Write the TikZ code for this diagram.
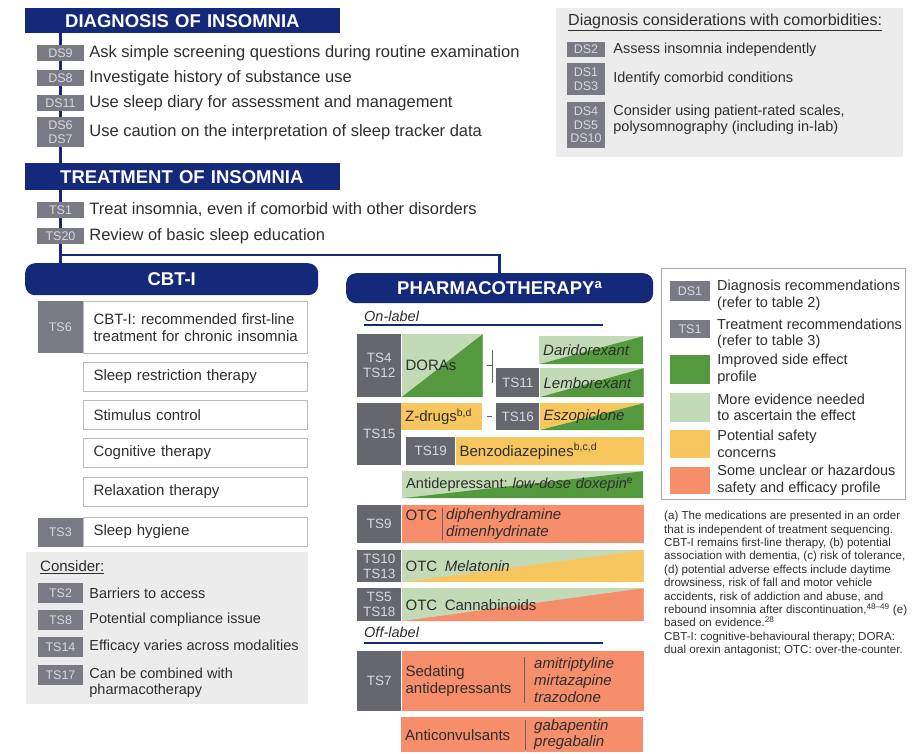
\documentclass[tikz,border=0pt]{standalone}
\usepackage{fontspec}
\setmainfont{Liberation Sans}
\usepackage{xcolor}
\usetikzlibrary{positioning, backgrounds}

\definecolor{navy}{HTML}{15297A}
\definecolor{tagfill}{HTML}{7A7A84}
\definecolor{ptagfill}{HTML}{66666F}
\definecolor{tagtext}{HTML}{D8D8E0}
\definecolor{panel}{HTML}{ECECEC}
\definecolor{ink}{HTML}{2E2E2E}
\definecolor{frame}{HTML}{BDBDBD}
\definecolor{legframe}{HTML}{A8A8A8}
\definecolor{darkgreen}{HTML}{55993F}
\definecolor{lightgreen}{HTML}{C2DBB6}
\definecolor{amber}{HTML}{F8C65E}
\definecolor{salmon}{HTML}{F68E6C}
\frenchspacing

\begin{document}
\begin{tikzpicture}[
x = 1pt, y = -1pt,
every node/.style = {text=ink},
heading/.style = {fill=navy, text=white, anchor=north west, align=left,
                  inner ysep=0pt, font=\bfseries\fontsize{18.5}{20}\selectfont},
pill/.style = {fill=navy, text=white, rounded corners=10pt, inner sep=0pt,
               anchor=north west, font=\bfseries\fontsize{18.5}{20}\selectfont},
trunk/.style = {draw=navy, line width=2.5pt},
tag/.style = {fill=tagfill, text=tagtext, inner sep=0pt, align=center,
              minimum width=47pt, minimum height=16pt,
              font=\fontsize{12.5}{13.5}\selectfont},
row/.style = {anchor=west, inner sep=0pt, font=\fontsize{16.5}{19}\selectfont},
note/.style = {anchor=west, inner sep=0pt, align=left,
               font=\fontsize{14.5}{16.5}\selectfont},
cbox/.style = {draw=frame, line width=1pt, inner xsep=10pt, inner ysep=0pt,
               text width=204pt, minimum height=29pt, align=left,
               font=\fontsize{15}{17}\selectfont},
ptag/.style = {fill=ptagfill, text=tagtext, inner sep=0pt, align=center,
               anchor=north west, font=\fontsize{13.5}{15}\selectfont},
pcell/.style = {anchor=north west, inner xsep=4pt, inner ysep=0pt, align=left,
                font=\fontsize{15}{17}\selectfont},
split/.style 2 args = {fill=#1, path picture={
    \fill[#2] (path picture bounding box.south west)
           -- (path picture bounding box.south east)
           -- (path picture bounding box.north east) -- cycle;}},
drugs/.style = {anchor=west, inner sep=0pt, align=left,
                font=\itshape\fontsize{15}{17}\selectfont},
sepline/.style = {draw=ink!75, line width=0.8pt},
rule/.style = {draw=navy, line width=2pt},
swatch/.style = {inner sep=0pt, minimum width=40pt},
]
\useasboundingbox (0,0) rectangle (922,754);

% diagnosis
\node (diag) [heading, text width=235pt, inner xsep=40pt, minimum height=25pt]
      at (25,8) {DIAGNOSIS OF INSOMNIA};
\node (ds9) [tag] at (60.5,53) {DS9};
\node (ds9t) [row, right=5pt of ds9] {Ask simple screening questions during routine examination};
\node (ds8) [tag] at (60.5,78) {DS8};
\node (ds8t) [row, right=5pt of ds8] {Investigate history of substance use};
\node (ds11) [tag] at (60.5,103) {DS11};
\node (ds11t) [row, right=5pt of ds11] {Use sleep diary for assessment and management};
\node (ds67) [tag, minimum height=30pt] at (60.5,132) {DS6\\DS7};
\node (ds67t) [row, right=5pt of ds67] {Use caution on the interpretation of sleep tracker data};

% comorbidities panel
\node (comorb) [fill=panel, inner sep=0pt, anchor=north west,
      minimum width=347pt, minimum height=149pt] at (556,8) {};
\node (comorbt) [note, font=\fontsize{16}{18}\selectfont] at (568,22)
      {\underline{Diagnosis considerations with comorbidities:}};
\node (ds2) [tag, minimum width=38pt, minimum height=15pt] at (586,49.5) {DS2};
\node (ds2t) [note, right=8pt of ds2] {Assess insomnia independently};
\node (ds13) [tag, minimum width=38pt, minimum height=32pt] at (586,79) {DS1\\DS3};
\node (ds13t) [note, right=8pt of ds13] {Identify comorbid conditions};
\node (ds4510) [tag, minimum width=38pt, minimum height=46pt] at (586,125) {DS4\\DS5\\DS10};
\node (ds4510t) [note, right=8pt of ds4510, yshift=5pt]
      {Consider using patient-rated scales,\\polysomnography (including in-lab)};

% treatment
\node (treat) [heading, text width=245pt, inner xsep=35pt, minimum height=27pt]
      at (25,163) {TREATMENT OF INSOMNIA};
\node (ts1) [tag] at (60.5,210) {TS1};
\node (ts1t) [row, right=5pt of ts1] {Treat insomnia, even if comorbid with other disorders};
\node (ts20) [tag] at (60.5,236) {TS20};
\node (ts20t) [row, right=5pt of ts20] {Review of basic sleep education};
\coordinate (fork) at (60.5,255);

\node (cbt) [pill, minimum width=293pt, minimum height=32pt] at (25,263) {CBT-I};
\node (pharm) [pill, minimum width=307pt, minimum height=30pt] at (346,273)
      {PHARMACOTHERAPY\textsuperscript{a}};

\begin{scope}[on background layer]
\draw[trunk] (diag.south -| ds9) -- (treat.north -| ds9)
             (treat.south -| ds9) -- (cbt.north -| ds9)
             (fork) -| (pharm.north);
\end{scope}

% CBT-I column
\node (ts6t) [cbox, minimum height=52pt, anchor=north west] at (83,301)
      {\mbox{CBT-I: recommended first-line}\\\mbox{treatment for chronic insomnia}};
\node (ts6) [tag, minimum width=45pt, minimum height=52pt, left=0pt of ts6t] {TS6};
\node (srt) [cbox, below=8pt of ts6t] {Sleep restriction therapy};
\node (stim) [cbox, below=8pt of srt] {Stimulus control};
\node (cogn) [cbox, below=8pt of stim] {Cognitive therapy};
\node (relax) [cbox, below=9pt of cogn] {Relaxation therapy};
\node (hyg) [cbox, below=10pt of relax] {Sleep hygiene};
\node (ts3) [tag, minimum width=45pt, minimum height=29pt, left=0pt of hyg] {TS3};

% consider panel
\node (cons) [fill=panel, inner sep=0pt, anchor=north west,
      minimum width=282pt, minimum height=152pt] at (26,552) {};
\node (const) [note, font=\fontsize{15}{17}\selectfont] at (40,567) {\underline{Consider:}};
\node (ts2) [tag, minimum width=45pt, minimum height=20pt] at (60.5,593) {TS2};
\node (ts2t) [note, right=6pt of ts2] {Barriers to access};
\node (ts8) [tag, minimum width=45pt, minimum height=20pt] at (60.5,620) {TS8};
\node (ts8t) [note, right=6pt of ts8] {Potential compliance issue};
\node (ts14) [tag, minimum width=45pt, minimum height=20pt] at (60.5,647) {TS14};
\node (ts14t) [note, right=6pt of ts14] {Efficacy varies across modalities};
\node (ts17) [tag, minimum width=45pt, minimum height=20pt] at (60.5,675) {TS17};
\node (ts17t) [note, right=6pt of ts17, yshift=-7.5pt] {Can be combined with\\pharmacotherapy};

% pharmacotherapy, on-label
\node (onlab) [anchor=west, inner sep=0pt, font=\itshape\fontsize{14.5}{16}\selectfont]
      at (364,316) {On-label};
\draw[rule] (364,325) -- (603,325);

\node (ts412) [ptag, minimum width=44pt, minimum height=63pt] at (357,334) {TS4\\TS12};
\node (dora) [pcell, split={lightgreen}{darkgreen}, text width=73pt, minimum height=63pt,
      right=0pt of ts412] {DORAs};
\node (dari) [pcell, split={lightgreen}{darkgreen}, text width=96pt, minimum height=28pt]
      at (539,336) {\textit{Daridorexant}};
\node (ts11) [ptag, minimum width=43pt, minimum height=29pt] at (496,368) {TS11};
\node (lembo) [pcell, split={lightgreen}{darkgreen}, text width=96pt, minimum height=29pt,
      right=0pt of ts11] {\textit{Lemborexant}};
\draw[sepline] ([xshift=4pt]dora.east) -- ([xshift=10pt]dora.east) coordinate (brk);
\draw[sepline] (brk |- dari.center) -- (brk |- lembo.center);

\node (ts15) [ptag, minimum width=44pt, minimum height=62pt] at (357,403) {TS15};
\node (zdrug) [pcell, fill=amber, text width=73pt, minimum height=27pt]
      at (401,403) {Z-drugs\textsuperscript{b,d}};
\node (ts16) [ptag, minimum width=43pt, minimum height=27pt] at (496,403) {TS16};
\node (eszo) [pcell, split={amber}{darkgreen}, text width=96pt, minimum height=27pt,
      right=0pt of ts16] {\textit{Eszopiclone}};
\draw[sepline] ([xshift=5pt]zdrug.east) -- ([xshift=10pt]zdrug.east);
\node (ts19) [ptag, minimum width=49pt, minimum height=28pt] at (406,437) {TS19};
\node (benzo) [pcell, fill=amber, text width=180pt, minimum height=28pt,
      right=0pt of ts19] {Benzodiazepines\textsuperscript{b,c,d}};
\node (doxe) [pcell, split={lightgreen}{darkgreen}, text width=233pt, minimum height=27pt,
      font=\fontsize{14.6}{17}\selectfont]
      at (402,471) {\mbox{Antidepressant: \textit{low-dose doxepin}\textsuperscript{e}}};

\node (ts9) [ptag, minimum width=44pt, minimum height=38pt] at (357,505) {TS9};
\node (otc) [pcell, fill=salmon, text width=234pt, minimum height=38pt,
      right=0pt of ts9] {OTC\\~};
\node (otcdrugs) [drugs] at (446,524) {diphenhydramine\\dimenhydrinate};
\draw[sepline] ([xshift=-4pt]otcdrugs.north west) -- ([xshift=-4pt]otcdrugs.south west);
\node (ts1013) [ptag, minimum width=44pt, minimum height=32pt] at (357,550) {TS10\\TS13};
\node (mela) [pcell, split={lightgreen}{amber}, text width=234pt, minimum height=32pt,
      right=0pt of ts1013] {OTC\enspace\textit{Melatonin}};
\node (ts518) [ptag, minimum width=44pt, minimum height=33pt] at (357,588) {TS5\\TS18};
\node (canna) [pcell, split={lightgreen}{salmon}, text width=234pt, minimum height=33pt,
      right=0pt of ts518] {OTC\enspace Cannabinoids};

% off-label
\node (offlab) [anchor=west, inner sep=0pt, font=\itshape\fontsize{14.5}{16}\selectfont]
      at (364,632) {Off-label};
\draw[rule] (364,643) -- (603,643);

\node (ts7) [ptag, minimum width=44pt, minimum height=60pt] at (357,651) {TS7};
\node (seda) [pcell, fill=salmon, text width=234pt, minimum height=60pt,
      right=0pt of ts7] {Sedating\\antidepressants};
\node (sedadrugs) [drugs] at (534,680) {amitriptyline\\mirtazapine\\trazodone};
\draw[sepline] ([xshift=-10pt]sedadrugs.north west) -- ([xshift=-10pt]sedadrugs.south west);
\node (anti) [pcell, fill=salmon, text width=234pt, minimum height=35pt]
      at (401,717) {Anticonvulsants};
\node (antidrugs) [drugs, font=\itshape\fontsize{15}{16}\selectfont] at (534,735)
      {gabapentin\\pregabalin};
\draw[sepline] ([xshift=-9pt]antidrugs.north west) -- ([xshift=-9pt]antidrugs.south west);

% legend
\node (legend) [draw=legframe, line width=1.3pt, inner sep=0pt, anchor=north west,
      minimum width=244pt, minimum height=231pt] at (661,268) {};
\node (kds) [tag, minimum width=40pt, minimum height=20pt] at (690,291) {DS1};
\node (kdst) [note] at (717,295) {Diagnosis recommendations\\(refer to table 2)};
\node (kts) [tag, minimum width=40pt, minimum height=18pt] at (690,329) {TS1};
\node (ktst) [note] at (717,333.5) {Treatment recommendations\\(refer to table 3)};
\node (kgreen) [swatch, fill=darkgreen, minimum height=29pt] at (690,369.5) {};
\node (kgreent) [note, right=7pt of kgreen] {Improved side effect\\profile};
\node (klight) [swatch, fill=lightgreen, minimum height=29pt] at (690,407.5) {};
\node (klightt) [note, right=7pt of klight] {More evidence needed\\to ascertain the effect};
\node (kamber) [swatch, fill=amber, minimum height=28pt] at (690,444) {};
\node (kambert) [note, right=7pt of kamber] {Potential safety\\concerns};
\node (ksalmon) [swatch, fill=salmon, minimum height=27pt] at (690,480.5) {};
\node (ksalmont) [note, right=7pt of ksalmon] {Some unclear or hazardous\\safety and efficacy profile};

\node (fnote) [anchor=north west, inner sep=0pt, align=left,
      font=\fontsize{11.6}{13.4}\selectfont] at (664,511)
      {(a) The medications are presented in an order\\
       that is independent of treatment sequencing.\\
       CBT-I remains first-line therapy, (b) potential\\
       association with dementia, (c) risk of tolerance,\\
       (d) potential adverse effects include daytime\\
       drowsiness, risk of fall and motor vehicle\\
       accidents, risk of addiction and abuse, and\\
       rebound insomnia after discontinuation,\textsuperscript{48--49} (e)\\
       based on evidence.\textsuperscript{28}\\
       CBT-I: cognitive-behavioural therapy; DORA:\\
       dual orexin antagonist; OTC: over-the-counter.};
\end{tikzpicture}
\end{document}
